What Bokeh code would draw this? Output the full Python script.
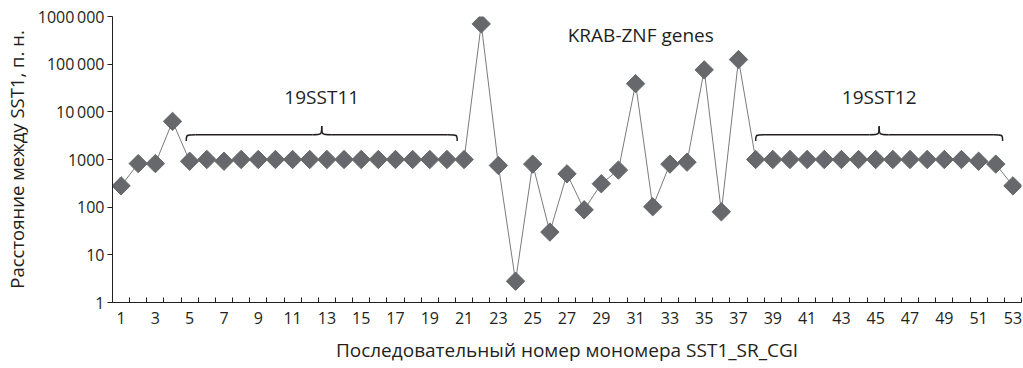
import math
from bokeh.plotting import figure
from bokeh.models import FixedTicker, Range1d, ColumnDataSource
from bokeh.embed import file_html
from bokeh.resources import INLINE
from bokeh.core.properties import value

# ---- data ----
monomer = list(range(1, 54))
distance = [
    280, 820, 820, 6300, 920, 1000, 920, 1000, 1000, 1000,
    1000, 1000, 1000, 1000, 1000, 1000, 1000, 1000, 1000, 1000,
    1000, 700000, 750, 2.8, 800, 30, 500, 88, 310, 600,
    39000, 102, 800, 880, 76000, 80, 125000, 1000, 1000, 1000,
    1000, 1000, 1000, 1000, 1000, 1000, 1000, 1000, 1000, 1000,
    920, 800, 280,
]
x_tick_labels = [str(i) for i in range(1, 54, 2)]
y_tick_values = [1, 10, 100, 1000, 10000, 100000, 1000000]
y_tick_labels = ["1", "10", "100", "1000", "10\u2009000", "100\u2009000", "1000\u2009000"]

group_names = ["19SST11", "19SST12"]
group_start = [4.8, 38.0]
group_end = [20.6, 52.4]
group_label_y = [20500, 20500]

region_name = "KRAB-ZNF genes"
region_x = 31.3
region_y = 400000

FONT = "Open Sans"
MARK = "#67686c"
INK = "#231f20"

p = figure(width=1023, height=368, output_backend="svg", toolbar_location=None,
           y_axis_type="log", x_range=Range1d(0.5, 53.5), y_range=Range1d(1, 1000000),
           min_border_left=112, min_border_right=2, min_border_top=16, min_border_bottom=66)
p.outline_line_color = None
p.grid.grid_line_color = None
p.background_fill_color = "white"
p.border_fill_color = "white"

src = ColumnDataSource(dict(x=monomer, y=distance))
p.line("x", "y", source=src, line_color="#7a7b7e", line_width=1)
p.scatter("x", "y", source=src, marker="square", size=13, angle=math.pi / 4,
          fill_color=MARK, line_color=MARK)

# x axis
xa = p.xaxis[0]
xa.ticker = FixedTicker(ticks=list(range(1, 54, 2)),
                        minor_ticks=[i + 0.5 for i in range(0, 54)])
xa.major_label_overrides = {int(t): t for t in x_tick_labels}
xa.major_tick_in = 0
xa.major_tick_out = 0
xa.minor_tick_in = 5
xa.minor_tick_out = 0
xa.minor_tick_line_color = INK
xa.axis_line_color = INK
xa.major_label_standoff = 9
xa.major_label_text_font = FONT
xa.major_label_text_font_size = "16px"
xa.major_label_text_color = INK
xa.axis_label = "Последовательный номер мономера SST1_SR_CGI"
xa.axis_label_text_font = FONT
xa.axis_label_text_font_size = "19px"
xa.axis_label_text_font_style = "normal"
xa.axis_label_text_color = INK
xa.axis_label_standoff = 10

# y axis
ya = p.yaxis[0]
ya.ticker = FixedTicker(ticks=y_tick_values, minor_ticks=[])
ya.major_label_overrides = {v: l for v, l in zip(y_tick_values, y_tick_labels)}
ya.major_tick_in = 0
ya.major_tick_out = 5
ya.minor_tick_in = 0
ya.minor_tick_out = 0
ya.major_tick_line_color = INK
ya.axis_line_color = INK
ya.major_label_standoff = 3
ya.major_label_text_font = FONT
ya.major_label_text_font_size = "16px"
ya.major_label_text_color = INK
ya.axis_label = "Расстояние между SST1, п. н."
ya.axis_label_text_font = FONT
ya.axis_label_text_font_size = "18.5px"
ya.axis_label_text_font_style = "normal"
ya.axis_label_text_color = INK
ya.axis_label_standoff = 6

# braces
y_base, y_tip, y_peak = 3310, 2450, 5000
w = 0.55
for s, e in zip(group_start, group_end):
    m = (s + e) / 2
    p.bezier(x0=[s, m - w, m + w, e - w], y0=[y_tip, y_base, y_base, y_base],
             x1=[s + w, m, m, e], y1=[y_base, y_peak, y_peak, y_tip],
             cx0=[s, m, m, e], cy0=[y_base, y_base, y_base, y_base],
             cx1=[s, m, m, e], cy1=[y_base, y_base, y_base, y_base],
             line_color=INK, line_width=1.5)
    p.segment(x0=[s + w, m + w], y0=[y_base, y_base], x1=[m - w, e - w], y1=[y_base, y_base],
              line_color=INK, line_width=1.5)

p.text(x=[(s + e) / 2 for s, e in zip(group_start, group_end)], y=group_label_y,
       text=group_names, text_font=value(FONT), text_font_size="19px",
       text_align="center", text_baseline="middle", text_color=INK)
p.text(x=[region_x], y=[region_y], text=[region_name], text_font=value(FONT),
       text_font_size="19px", text_align="center", text_baseline="middle",
       text_color=INK)

open("out.html", "w").write(file_html(p, INLINE))
